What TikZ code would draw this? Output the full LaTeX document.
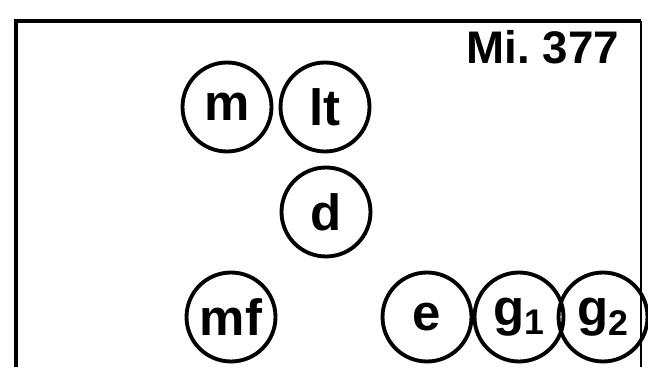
\documentclass[tikz,border=0pt]{standalone}
\usepackage{fontspec}
\setmainfont{Liberation Sans}
\usepackage{tikz}
\usetikzlibrary{positioning}
\tikzset{
  mframe/.style={black, line width=2.6pt},
  mring/.style={circle, draw=black, line width=2.2pt, minimum size=1.78cm,
                inner sep=0pt, font=\fontsize{29}{32}\selectfont\bfseries},
  mtag/.style={font=\fontsize{26}{28}\selectfont\bfseries, inner sep=0pt},
}
\begin{document}
\begin{tikzpicture}[x=0.02cm, y=-0.02cm]
  \useasboundingbox (0,0) rectangle (648,367);

  % rahmen
  \draw[mframe] (16,367) -- (16,21) -- (641,21);
  \draw[black, line width=1pt] (641,21) -- (641,367);

  % kennung
  \node[mtag] (tag) at (543,47) {Mi.\ 377};

  % kreise
  \node[mring] (m)  at (227,107) {m};
  \node[mring] (lt) at (325,107) {lt};
  \node[mring] (d)  at (326,212) {d};
  \node[mring] (mf) at (231,317) {mf};
  \node[mring] (e)  at (427,317) {e};
  \node[mring] (g1) at (519,317) {g\textsubscript{1}};
  \node[mring] (g2) at (603,317) {g\textsubscript{2}};

\end{tikzpicture}
\end{document}
